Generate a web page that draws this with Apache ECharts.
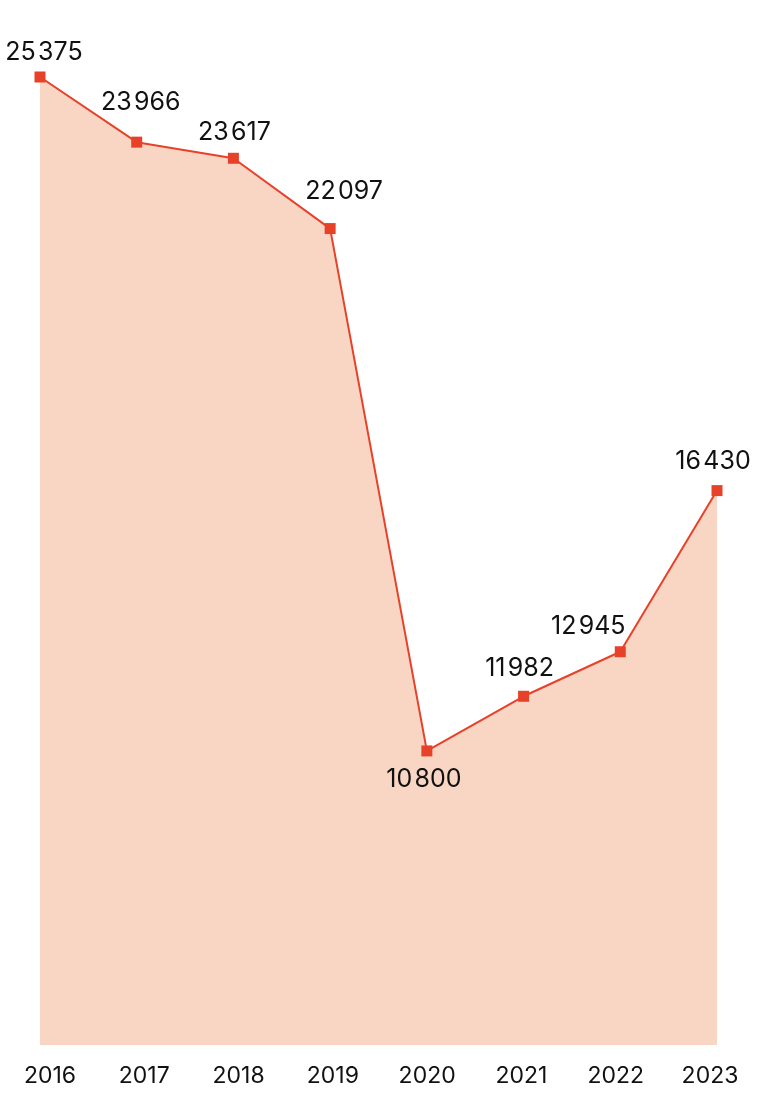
<!DOCTYPE html>
<html>
<head>
<meta charset="utf-8">
<style>
html,body{margin:0;padding:0;background:#fff;}
#chart{width:760px;height:1094px;}
</style>
<script src="https://cdn.jsdelivr.net/npm/echarts@6/dist/echarts.min.js"></script>
</head>
<body>
<div id="chart"></div>
<script>
const years = ['2016','2017','2018','2019','2020','2021','2022','2023'];
const values = [25375, 23966, 23617, 22097, 10800, 11982, 12945, 16430];

// label placement (pixel offsets from each marker centre), styling only
const labelOffsets = [[4,-25],[4,-40],[1,-26],[14,-37],[-3,29],[-4,-28],[-32,-25],[-4,-29]];

function fmt(v){
  return String(v).replace(/\B(?=(\d{3})+(?!\d))/g, '\u200A');
}

const chart = echarts.init(document.getElementById('chart'));
const data = values.map((v,i)=>({
  value: v,
  label: {position:'inside', offset: labelOffsets[i]}
}));

chart.setOption({
  animation:false,
  grid:[
    {left:40, right:43, top:77, bottom:49},
    {left:50, right:50, top:77, bottom:49}
  ],
  xAxis:[{
    type:'category',
    gridIndex:0,
    data: years,
    boundaryGap:false,
    axisLine:{show:false},
    axisTick:{show:false},
    axisLabel:{show:false}
  },{
    type:'category',
    gridIndex:1,
    data: years,
    boundaryGap:false,
    axisLine:{show:false},
    axisTick:{show:false},
    axisLabel:{color:'#111', fontSize:23, fontFamily:'Inter', margin:20}
  }],
  yAxis:[{
    type:'value',
    gridIndex:0,
    min:4440,
    max:25375,
    show:false,
    splitLine:{show:false}
  },{
    type:'value',
    gridIndex:1,
    show:false,
    splitLine:{show:false}
  }],
  series:[{
    type:'line',
    xAxisIndex:0,
    yAxisIndex:0,
    data: data,
    symbol:'rect',
    symbolSize:11,
    itemStyle:{color:'#E8412A'},
    lineStyle:{color:'#E8412A', width:2},
    areaStyle:{color:'#F9D5C4', opacity:1},
    label:{
      show:true,
      color:'#111',
      fontSize:25,
      fontFamily:'Inter',
      formatter: p => fmt(p.value)
    }
  }]
});
</script>
</body>
</html>
